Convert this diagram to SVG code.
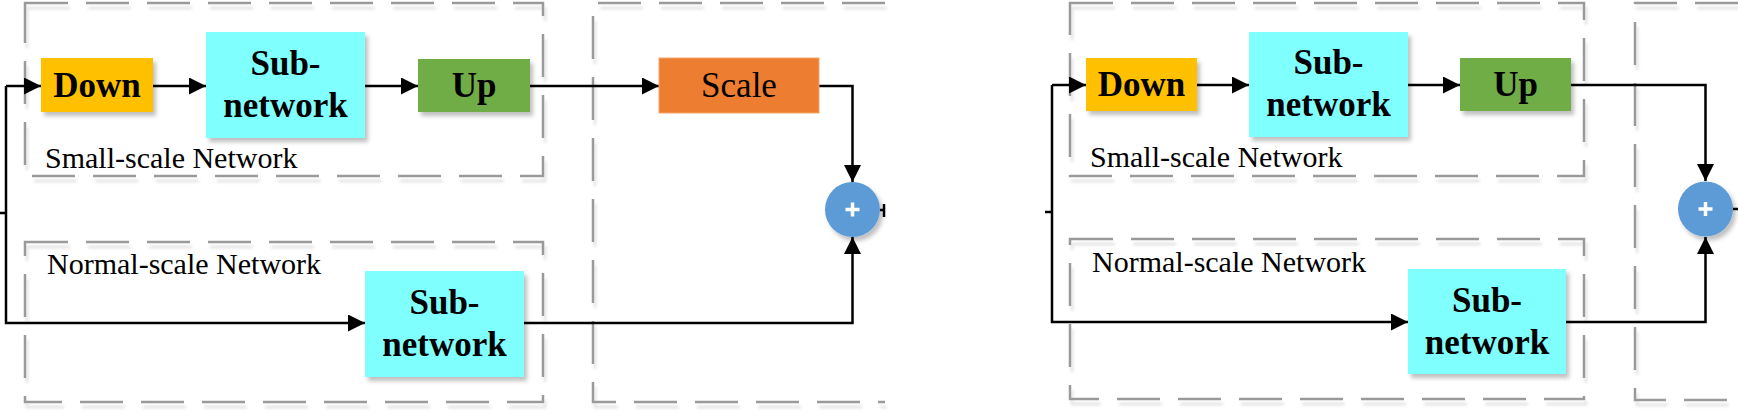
<svg xmlns="http://www.w3.org/2000/svg" width="1738" height="414" viewBox="0 0 1738 414">
<defs>
<filter id="sh" x="-20%" y="-20%" width="150%" height="150%">
<feDropShadow dx="3" dy="4" stdDeviation="2" flood-color="#000" flood-opacity="0.25"/>
</filter>
<filter id="dsh" x="-5%" y="-5%" width="110%" height="115%">
<feDropShadow dx="2" dy="5" stdDeviation="1.5" flood-color="#000" flood-opacity="0.12"/>
</filter>
<marker id="ar" markerUnits="userSpaceOnUse" markerWidth="17" markerHeight="17" refX="17" refY="8.5" orient="auto">
<path d="M0 0 L17 8.5 L0 17 z" fill="#000"/>
</marker>
</defs>
<style>
.grp{fill:none;stroke:#9a9a9a;stroke-width:2.5;stroke-dasharray:43 18;filter:url(#dsh)}
.box{filter:url(#sh)}
.b{font-family:"Liberation Serif","Times New Roman",serif;font-weight:bold;font-size:35px;text-anchor:middle;fill:#000}
.r{font-family:"Liberation Serif","Times New Roman",serif;font-size:35px;text-anchor:middle;fill:#000}
.lbl{font-family:"Liberation Serif","Times New Roman",serif;font-size:30px;fill:#000}
.ln{fill:none;stroke:#000;stroke-width:2.5}
.la{fill:none;stroke:#000;stroke-width:2.5;marker-end:url(#ar)}
.plus{stroke:#fff;stroke-width:3.5;fill:none}
</style>
<g id="groups">
<rect class="grp" x="25" y="3" width="518" height="173"/>
<rect class="grp" x="25" y="242" width="518" height="160"/>
<path class="grp" d="M885 3 H593 V402 H885"/>
<rect class="grp" x="1070" y="3" width="514" height="173"/>
<rect class="grp" x="1070" y="239" width="514" height="160"/>
<path class="grp" d="M1738 3 H1635 V400 H1738"/>
</g>
<g id="labels">
<text class="lbl" x="45" y="168">Small-scale Network</text>
<text class="lbl" x="47" y="274">Normal-scale Network</text>
<text class="lbl" x="1090" y="167">Small-scale Network</text>
<text class="lbl" x="1092" y="272">Normal-scale Network</text>
</g>
<g id="connectors">
<path class="ln" d="M0 213 H6"/>
<path class="la" d="M6 86 H41"/>
<path class="la" d="M6 86 V323 H365"/>
<path class="la" d="M153 86 H206"/>
<path class="la" d="M365 86 H418"/>
<path class="la" d="M530 86 H659"/>
<path class="la" d="M819 86 H852.5 V182"/>
<path class="la" d="M524 323 H852.5 V237"/>
<path class="ln" d="M880 210 H884 M884 204 V217"/>
<path class="ln" d="M1045 212 H1052"/>
<path class="la" d="M1052 85 H1086"/>
<path class="la" d="M1052 85 V322 H1408"/>
<path class="la" d="M1197 85 H1249"/>
<path class="la" d="M1408 85 H1460"/>
<path class="la" d="M1571 85 H1705.5 V181"/>
<path class="la" d="M1566 322 H1705.5 V237"/>
<path class="ln" d="M1733 209 H1738"/>
</g>
<g id="down1"><rect class="box" x="41" y="58" width="112" height="54" fill="#FFC000"/><text class="b" x="97" y="97">Down</text></g>
<g id="sub1"><rect class="box" x="206" y="32" width="159" height="106" fill="#80FFFF"/><text class="b" x="285.5" y="75">Sub-</text><text class="b" x="285.5" y="117">network</text></g>
<g id="up1"><rect class="box" x="418" y="59" width="112" height="53" fill="#70AD47"/><text class="b" x="474" y="97">Up</text></g>
<g id="scale1"><rect x="659" y="58" width="160" height="55" fill="#ED7D31" stroke="#F4A66A" stroke-width="1"/><text class="r" x="739" y="97">Scale</text></g>
<g id="sum1"><circle class="box" cx="852.5" cy="209.5" r="27.5" fill="#5B9BD5"/><path class="plus" d="M845.5 209.5 H859.5 M852.5 202.5 V216.5"/></g>
<g id="sub2"><rect class="box" x="365" y="271" width="159" height="106" fill="#80FFFF"/><text class="b" x="444.5" y="314">Sub-</text><text class="b" x="444.5" y="356">network</text></g>
<g id="down2"><rect class="box" x="1086" y="58" width="111" height="53" fill="#FFC000"/><text class="b" x="1141.5" y="96">Down</text></g>
<g id="sub3"><rect class="box" x="1249" y="32" width="159" height="105" fill="#80FFFF"/><text class="b" x="1328.5" y="74">Sub-</text><text class="b" x="1328.5" y="116">network</text></g>
<g id="up2"><rect class="box" x="1460" y="58" width="111" height="53" fill="#70AD47"/><text class="b" x="1515.5" y="96">Up</text></g>
<g id="sum2"><circle class="box" cx="1705.5" cy="209" r="27.5" fill="#5B9BD5"/><path class="plus" d="M1698.5 209 H1712.5 M1705.5 202 V216"/></g>
<g id="sub4"><rect class="box" x="1408" y="269" width="158" height="105" fill="#80FFFF"/><text class="b" x="1487" y="312">Sub-</text><text class="b" x="1487" y="354">network</text></g>
</svg>
